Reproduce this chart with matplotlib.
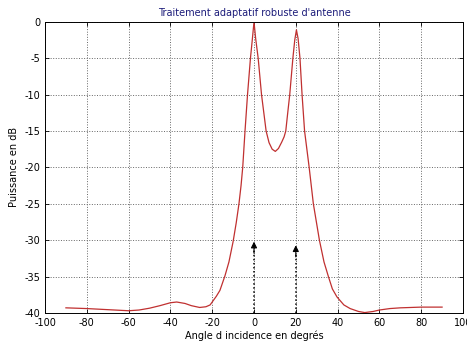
import numpy as np
import matplotlib
matplotlib.use('Agg')
import matplotlib.pyplot as plt

# angle (deg) and power (dB)
angle = [-90, -80, -70, -60, -55, -50, -45, -40, -37, -33, -30, -26, -23, -21,
         -19.5, -18, -16.3, -13.9, -12, -10, -8.5, -7.2, -6.2, -5.4, -4.3, -3.1,
         -1.7, -0.8, 0, 0.8, 2.0, 3.6, 5.8, 7.2, 8.7, 10.2, 11.7, 13.3, 14.4,
         15.2, 16.1, 17.1, 18.6, 19.5, 20.3, 21.1, 22, 23, 24.2, 26.4, 28.4,
         31.3, 33.5, 35.6, 37.5, 39.7, 43, 46, 50, 53, 57, 60, 65, 70, 80, 90]
power = [-39.3, -39.4, -39.55, -39.7, -39.6, -39.35, -39.0, -38.6, -38.5, -38.7,
         -39.0, -39.25, -39.15, -38.9, -38.3, -37.7, -36.9, -34.9, -33.0, -30.2,
         -27.6, -25.0, -22.5, -20.0, -15.0, -10.0, -5.0, -2.4, 0.0, -2.3, -5.0,
         -10.0, -15.0, -16.6, -17.5, -17.8, -17.4, -16.5, -15.8, -15.0, -12.6,
         -10.0, -5.0, -2.5, -1.1, -2.3, -5.0, -10.0, -15.0, -20.0, -25.0,
         -30.0, -33.0, -35.0, -36.7, -37.8, -38.9, -39.4, -39.8, -39.95,
         -39.8, -39.6, -39.4, -39.3, -39.2, -39.2]

# source directions marked by arrows
src_angle = [0, 20]
src_tip = [-30.2, -30.7]

xticks = np.arange(-100, 101, 20)
yticks = np.arange(-40, 1, 5)

plt.rcParams['axes.unicode_minus'] = False
plt.rcParams['font.family'] = 'DejaVu Sans'

fig = plt.figure(figsize=(4.67, 3.42), dpi=100)
ax = fig.add_axes([0.0964, 0.085, 0.895, 0.851])

ax.plot(angle, power, color='#c03030', lw=0.9)

for a, t in zip(src_angle, src_tip):
    ax.plot([a, a], [-40, t - 1.2], color='k', lw=1.1, linestyle=':')
    ax.annotate('', xy=(a, t), xytext=(a, t - 1.6),
                arrowprops=dict(arrowstyle='-|>', color='k', lw=0.8,
                                mutation_scale=9, shrinkA=0, shrinkB=0))

ax.set_xlim(-100, 100)
ax.set_ylim(-40, 0)
ax.set_xticks(xticks)
ax.set_yticks(yticks)
ax.grid(True, linestyle=':', color='#666666', lw=0.7)
ax.tick_params(direction='in', labelsize=7, length=3, width=0.6, top=True, right=True)
for s in ax.spines.values():
    s.set_linewidth(0.7)

ax.set_title("Traitement adaptatif robuste d'antenne", fontsize=7,
             color='#1c1c7a', pad=4)
ax.set_xlabel('Angle d incidence en degrés', fontsize=7, labelpad=2)
ax.set_ylabel('Puissance en dB', fontsize=7, labelpad=4)

fig.savefig('out.png', dpi=100)
